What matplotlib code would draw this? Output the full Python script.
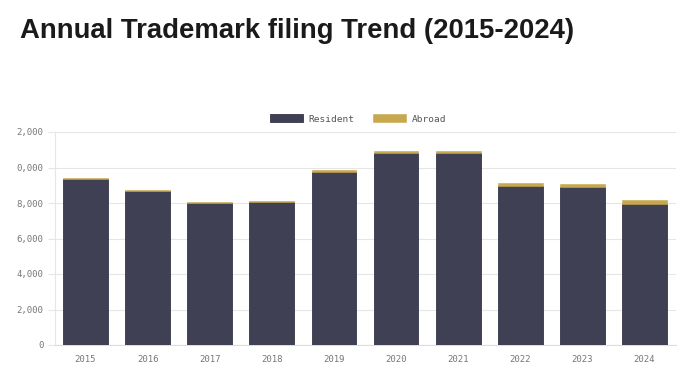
import matplotlib.pyplot as plt
import numpy as np

# --- Data ---
years = ["2015", "2016", "2017", "2018", "2019", "2020", "2021", "2022", "2023", "2024"]
resident = [9350, 8660, 8000, 8060, 9750, 10820, 10820, 8960, 8880, 7950]
abroad = [80, 70, 70, 80, 110, 110, 110, 150, 190, 220]
y_ticks = [0, 2000, 4000, 6000, 8000, 10000, 12000]
y_tick_labels = ["0", "2,000", "4,000", "6,000", "8,000", "0,000", "2,000"]

DARK = "#404055"
GOLD = "#c8a84e"
GRID = "#e6e6e6"
TXT = "#777777"
MONO = "DejaVu Sans Mono"

fig = plt.figure(figsize=(6.84, 3.79), dpi=100)
ax = fig.add_axes([54.5 / 684, 1 - 345 / 379, 621 / 684, 213 / 379])

x = np.arange(len(years))
ax.bar(x, resident, width=0.72, color=DARK, edgecolor="#35354a", linewidth=0.6,
       label="Resident", zorder=3)
ax.bar(x, abroad, width=0.72, bottom=resident, color=GOLD, edgecolor=GOLD,
       linewidth=0.4, label="Abroad", zorder=3)

ax.set_xlim(-0.5, len(years) - 0.5)
ax.set_ylim(0, 12000)
ax.set_xticks(x)
ax.set_xticklabels(years, fontfamily=MONO, fontsize=6.5, color=TXT)
ax.set_yticks(y_ticks)
ax.set_yticklabels(y_tick_labels, fontfamily=MONO, fontsize=6.5, color=TXT)
ax.tick_params(axis="x", length=0, pad=7)
ax.tick_params(axis="y", length=5, color=GRID, pad=3)

ax.grid(axis="y", color=GRID, linewidth=0.8, zorder=0)
for side in ["top", "right"]:
    ax.spines[side].set_visible(False)
ax.spines["left"].set_color(GRID)
ax.spines["bottom"].set_color("#dddddd")

fig.text(20 / 684, 1 - 38 / 379, "Annual Trademark filing Trend (2015-2024)",
         fontsize=19.8, fontweight="bold", fontfamily="Liberation Sans", color="#1a1a1a")

leg = fig.legend(loc="center", bbox_to_anchor=(358 / 684, 1 - 119 / 379), ncol=2,
                 frameon=False, prop={"family": MONO, "size": 6.8},
                 handlelength=3.5, handleheight=0.9, columnspacing=1.9, handletextpad=0.6)
for t in leg.get_texts():
    t.set_color("#555555")

fig.savefig("out.png", dpi=100)
